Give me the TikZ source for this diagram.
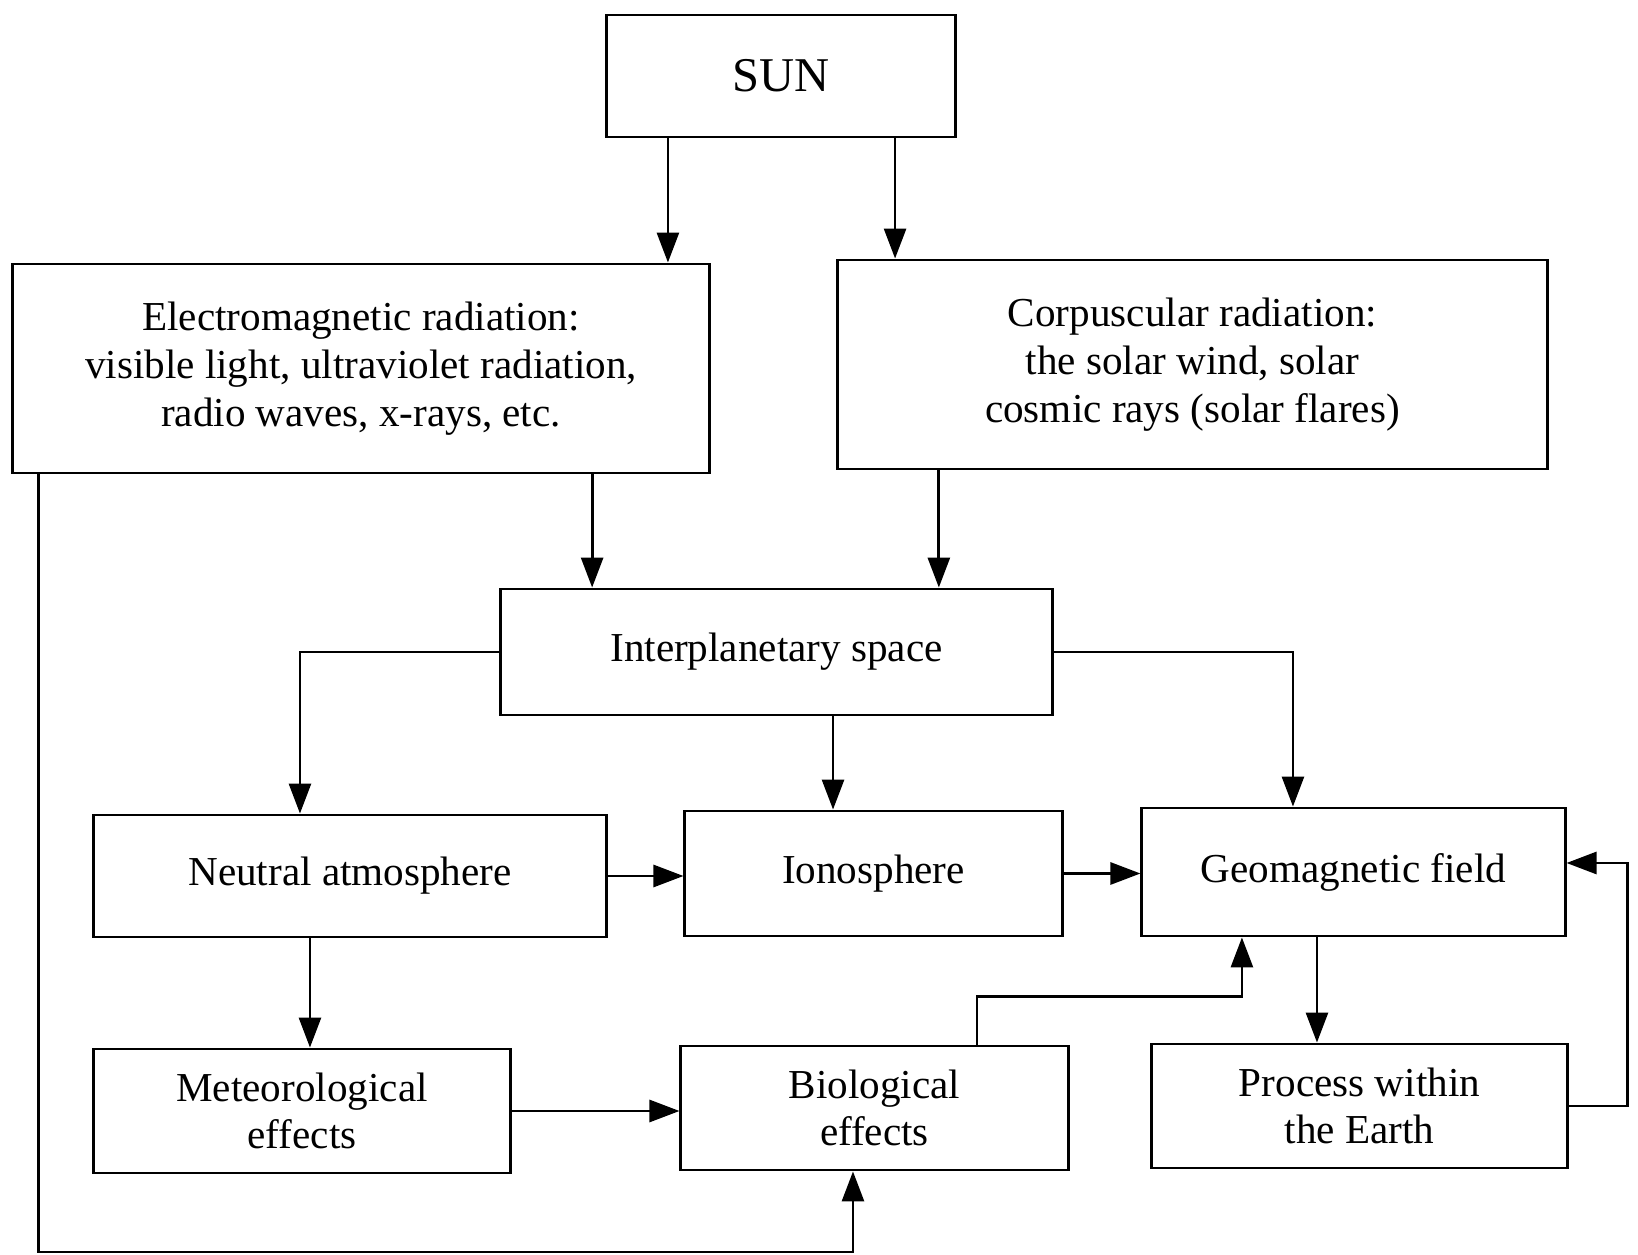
\documentclass[tikz,border=0pt]{standalone}
\usepackage{fontspec}
\setmainfont{Liberation Serif}
\usetikzlibrary{arrows.meta,calc,positioning}

\begin{document}
\begin{tikzpicture}[x=0.01cm, y=-0.01cm,
  box/.style={draw, line width=0.8pt, align=center, inner sep=0pt,
    font=\fontsize{11.7}{13.6}\selectfont},
  arr/.style={line width=0.8pt, -{Triangle[length=0.3cm,width=0.22cm]}}]
\useasboundingbox (0,0) rectangle (1638,1255);

% boxes
\node[box, minimum width=3.48cm, minimum height=1.22cm, font=\fontsize{13.8}{16}\selectfont] (sun) at (781,76) {SUN};
\node[box, minimum width=6.96cm, minimum height=2.09cm] (em) at (361,368.5)
  {Electromagnetic radiation:\\visible light, ultraviolet radiation,\\radio waves, x-rays, etc.};
\node[box, minimum width=7.09cm, minimum height=2.09cm] (corp) at (1192.5,364.5)
  {Corpuscular radiation:\\the solar wind, solar\\cosmic rays (solar flares)};
\node[box, minimum width=5.51cm, minimum height=1.26cm] (inter) at (776.5,652) {Interplanetary space};
\node[box, minimum width=5.12cm, minimum height=1.22cm] (neutral) at (350,876) {Neutral atmosphere};
\node[box, minimum width=3.77cm, minimum height=1.25cm] (iono) at (873.5,873.5) {Ionosphere};
\node[box, minimum width=4.23cm, minimum height=1.28cm] (geo) at (1353.5,872) {Geomagnetic field};
\node[box, minimum width=4.16cm, minimum height=1.24cm] (meteo) at (302,1111) {Meteorological\\effects};
\node[box, minimum width=3.87cm, minimum height=1.24cm] (bio) at (874.5,1108) {Biological\\effects};
\node[box, minimum width=4.15cm, minimum height=1.24cm] (earth) at (1359.5,1106) {Process within\\the Earth};

% from the sun
\draw[arr] ([xshift=-1.13cm]sun.south) -- ([xshift=-1.13cm]sun.south |- em.north);
\draw[arr] ([xshift=1.14cm]sun.south) -- ([xshift=1.14cm]sun.south |- corp.north);
\draw[arr] ([xshift=2.31cm]em.south) -- ([xshift=2.31cm]em.south |- inter.north);
\draw[arr] ([xshift=-2.535cm]corp.south) -- ([xshift=-2.535cm]corp.south |- inter.north);

% interplanetary space
\draw[arr] (inter.west) -| ([xshift=-0.5cm]neutral.north);
\draw[arr] (inter.east) -| ([xshift=-0.605cm]geo.north);
\draw[arr] ([xshift=0.565cm]inter.south) -- ([xshift=0.565cm]inter.south |- iono.north);

% earth
\draw[arr] (neutral.east) -- (neutral.east -| iono.west);
\draw[arr] (iono.east) -- (iono.east -| geo.west);
\draw[arr] ([xshift=-0.365cm]geo.south) -- ([xshift=-0.365cm]geo.south |- earth.north);
\draw[arr] ([xshift=-0.4cm]neutral.south) -- ([xshift=-0.4cm]neutral.south |- meteo.north);
\draw[arr] (meteo.east) -- (meteo.east -| bio.west);
\draw[arr] ([xshift=1.025cm]bio.north) -- ++(0,0.48cm) -| ([xshift=-1.115cm]geo.south);
\draw[arr] (earth.east) -- ++(0.59cm,0) |- ([yshift=0.09cm]geo.east);
\draw[arr] ([xshift=-3.22cm]em.south) -- ++(0,-7.77cm) -| ([xshift=-0.215cm]bio.south);

\end{tikzpicture}
\end{document}
